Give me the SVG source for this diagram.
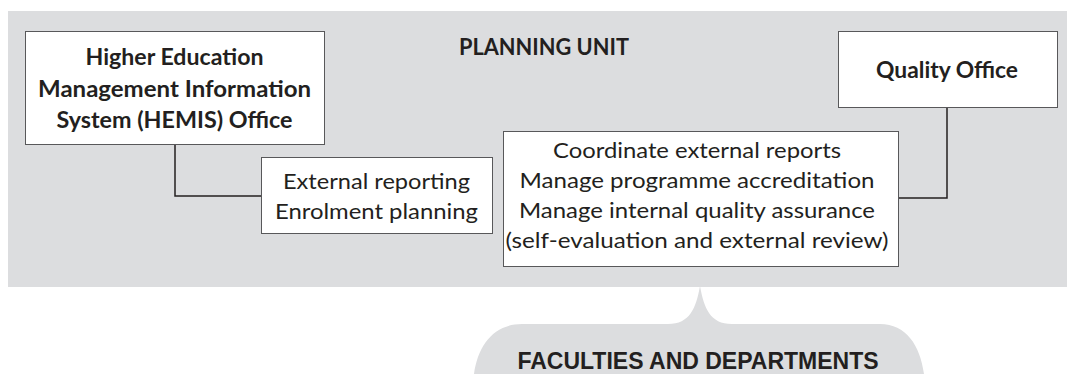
<svg xmlns="http://www.w3.org/2000/svg" width="1067" height="374" viewBox="0 0 1067 374">
  <style>
    .band { fill: #dcdddf; }
    .box { fill: #ffffff; stroke: #58585a; stroke-width: 1; }
    .wire { fill: none; stroke: #231f20; stroke-width: 1.5; }
    .t { font-family: Lato, "Open Sans", sans-serif; fill: #231f20; text-anchor: middle; }
    .b { font-weight: bold; font-size: 22px; }
    .r { font-size: 21.5px; }
    .foot { font-family: "Liberation Sans", Arial, sans-serif; font-weight: bold; font-size: 23px; fill: #231f20; text-anchor: middle; }
  </style>

  <!-- planning unit backdrop -->
  <g id="planning-unit">
    <rect class="band" x="8" y="11" width="1059" height="276"/>
    <text class="t b" x="544" y="55" textLength="170" lengthAdjust="spacingAndGlyphs">PLANNING UNIT</text>
  </g>

  <!-- faculties and departments brace -->
  <g id="faculties">
    <path class="band" d="M700,286 C696,308 690,324 668,324 L522,324 C494,324 478,345 474,374 L924,374 C920,345 906,324 880,324 L732,324 C710,324 704,308 700,286 Z"/>
    <text class="foot" x="698" y="369">FACULTIES AND DEPARTMENTS</text>
  </g>

  <!-- connectors -->
  <g id="connectors">
    <polyline class="wire" points="175,145 175,196 261,196"/>
    <polyline class="wire" points="947,107 947,198 898,198"/>
  </g>

  <g id="hemis-office">
    <rect class="box" x="25.5" y="31.5" width="299" height="113"/>
    <text class="t b" x="174.5" y="65" textLength="178" lengthAdjust="spacingAndGlyphs">Higher Education</text>
    <text class="t b" x="174.5" y="97" textLength="273" lengthAdjust="spacingAndGlyphs">Management Information</text>
    <text class="t b" x="174.5" y="128" textLength="236" lengthAdjust="spacingAndGlyphs">System (HEMIS) Office</text>
  </g>

  <g id="quality-office">
    <rect class="box" x="838.5" y="31.5" width="219" height="76"/>
    <text class="t b" x="947" y="78" textLength="142" lengthAdjust="spacingAndGlyphs">Quality Office</text>
  </g>

  <g id="hemis-tasks">
    <rect class="box" x="261.5" y="157.5" width="231" height="76"/>
    <text class="t r" x="376.5" y="189" textLength="187" lengthAdjust="spacingAndGlyphs">External reporting</text>
    <text class="t r" x="376.5" y="219" textLength="203" lengthAdjust="spacingAndGlyphs">Enrolment planning</text>
  </g>

  <g id="quality-tasks">
    <rect class="box" x="503.5" y="131.5" width="395" height="135"/>
    <text class="t r" x="697" y="158" textLength="288" lengthAdjust="spacingAndGlyphs">Coordinate external reports</text>
    <text class="t r" x="697" y="188" textLength="355" lengthAdjust="spacingAndGlyphs">Manage programme accreditation</text>
    <text class="t r" x="697" y="218" textLength="356" lengthAdjust="spacingAndGlyphs">Manage internal quality assurance</text>
    <text class="t r" x="697" y="248" textLength="383" lengthAdjust="spacingAndGlyphs">(self-evaluation and external review)</text>
  </g>
</svg>
